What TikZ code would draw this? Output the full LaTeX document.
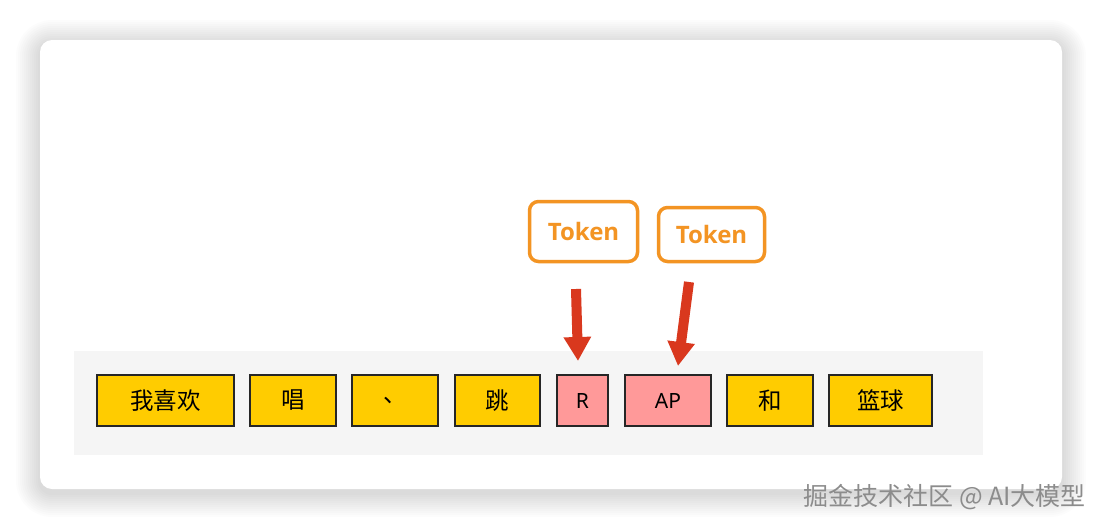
\documentclass[tikz,border=0pt]{standalone}
\usepackage{fontspec}
\setmainfont{Noto Sans}
\newfontfamily\cjk{Noto Sans CJK SC}
\newfontfamily\tokfont{Open Sans}
\usetikzlibrary{arrows.meta}
\definecolor{stripgray}{HTML}{F5F5F5}
\definecolor{wordyellow}{HTML}{FFCC00}
\definecolor{wordpink}{HTML}{FF9999}
\definecolor{tokorange}{HTML}{F39423}
\definecolor{arrred}{HTML}{D9381E}
\tikzset{
  word/.style={draw=black!85, line width=1.3pt, fill=wordyellow, minimum height=51pt, inner sep=0pt, font=\cjk\fontsize{23.5}{26}\selectfont},
  sub/.style={draw=black!85, line width=1.3pt, fill=wordpink, minimum height=51pt, inner sep=0pt, font=\fontsize{21}{24}\selectfont},
  tok/.style={draw=tokorange, line width=3.5pt, rounded corners=9pt, text=tokorange, inner sep=0pt, font=\tokfont\bfseries\fontsize{24}{28}\selectfont},
  bigarrow/.style={draw=arrred, line width=10pt, -{Triangle[width=26pt,length=24pt]}, arrred}
}
\begin{document}
\begin{tikzpicture}[x=1pt,y=-1pt]
\useasboundingbox (0,0) rectangle (1103,530);
\fill[white] (0,0) rectangle (1103,530);
% card shadow
\foreach \d in {24,22,...,2}{
  \fill[black, opacity=0.012, rounded corners=12pt+\d pt] (40-\d,40-\d+4) rectangle (1062+\d,489+\d+4);
}
\fill[white, rounded corners=12pt] (40,40) rectangle (1062,489);
% strip
\fill[stripgray] (74,351) rectangle (983,455);
% words
\node[word, minimum width=137pt] (w1) at (165.5,400.5) {我喜欢};
\node[word, minimum width=86pt] (w2) at (293,400.5) {唱};
\node[word, minimum width=86pt] (w3) at (395,400.5) {、};
\node[word, minimum width=85pt] (w4) at (497.5,400.5) {跳};
\node[sub, minimum width=51pt] (w5) at (582.5,400.5) {R};
\node[sub, minimum width=86pt] (w6) at (668,400.5) {AP};
\node[word, minimum width=86pt] (w7) at (770,400.5) {和};
\node[word, minimum width=103pt] (w8) at (880.5,400.5) {篮球};
% tokens
\node[tok, minimum width=108pt, minimum height=60pt] (t1) at (583.5,231.5) {Token};
\node[tok, minimum width=106pt, minimum height=54pt] (t2) at (711.5,234.5) {Token};
% arrows
\coordinate (a1s) at (576,289);
\coordinate (a1e) at (578,361);
\coordinate (a2s) at (689,282);
\coordinate (a2e) at (678,366);
\draw[bigarrow] (a1s) -- (a1e);
\draw[bigarrow] (a2s) -- (a2e);
% watermark
\node[anchor=east, text=black!45, font=\cjk\fontsize{25}{28}\selectfont, inner sep=0pt] (wm) at (1086,497) {掘金技术社区 @ AI大模型};
\end{tikzpicture}
\end{document}
